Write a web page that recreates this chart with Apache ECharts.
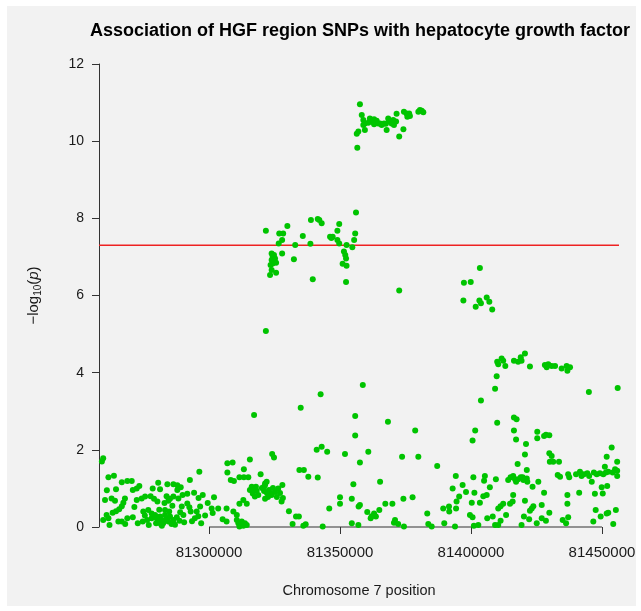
<!DOCTYPE html>
<html>
<head>
<meta charset="utf-8">
<script src="https://cdn.jsdelivr.net/npm/echarts@6/dist/echarts.min.js"></script>
<style>
  html, body { margin: 0; padding: 0; background: #fff; }
  #chart { width: 641px; height: 611px; }
</style>
</head>
<body>
<div id="chart"></div>
<script>
  // SNP positions (bp) and -log10(p), grouped by region
  const lowLeft = [
    [81259600, 1.78], [81259100, 1.7], [81261600, 1.29], [81263700, 1.33], [81266700, 1.16], [81268800, 1.19],
    [81270500, 1.19], [81270900, 0.96], [81272400, 1.0], [81273400, 1.06], [81260300, 0.7], [81262800, 0.74],
    [81264100, 0.68], [81267900, 0.74], [81267300, 0.63], [81266700, 0.54], [81265700, 0.46], [81264500, 0.41],
    [81263200, 0.37], [81260900, 0.31], [81259600, 0.18], [81261600, 0.23], [81265400, 0.14], [81266700, 0.14],
    [81268800, 0.23], [81270900, 0.25], [81272800, 0.1], [81274700, 0.14], [81276400, 0.18], [81278100, 0.23],
    [81272400, 0.7], [81274300, 0.74], [81275600, 0.79], [81277700, 0.8], [81279000, 0.73], [81280300, 0.66],
    [81274900, 0.4], [81276800, 0.44], [81278100, 0.35], [81280600, 1.15], [81281300, 0.98], [81284100, 1.11],
    [81286400, 1.11], [81287900, 1.08], [81289200, 1.03], [81287900, 0.96], [81283800, 0.8], [81285100, 0.73],
    [81284500, 0.68], [81286400, 0.79], [81288300, 0.74], [81289900, 0.83], [81291700, 0.86], [81292700, 1.22],
    [81294300, 0.89], [81296300, 1.43], [81297600, 0.83], [81291700, 0.61], [81292500, 0.51], [81293000, 0.4],
    [81295300, 0.4], [81295900, 0.28], [81294600, 0.23], [81296600, 0.53], [81289600, 0.53], [81290200, 0.31],
    [81279400, 0.31], [81280000, 0.23], [81280600, 0.14], [81281300, 0.27], [81281900, 0.18], [81282500, 0.1],
    [81283200, 0.31], [81283800, 0.2], [81284500, 0.14], [81285100, 0.27], [81285700, 0.08], [81281600, 0.08],
    [81279800, 0.1], [81286400, 0.18], [81287700, 0.25], [81288700, 0.16], [81283200, 0.44], [81284800, 0.4],
    [81277000, 0.05], [81282000, 0.03], [81287000, 0.06], [81290500, 0.12], [81293500, 0.15], [81297000, 0.1],
    [81262000, 0.05], [81268000, 0.08], [81275500, 0.3], [81281000, 0.45], [81286000, 0.55], [81271500, 0.52],
    [81261000, 0.95], [81264500, 0.98], [81278500, 1.0], [81283000, 0.62], [81289000, 0.38], [81296000, 0.75],
    [81298500, 0.3], [81299500, 0.62]
  ];
  const lowMid = [
    [81301900, 0.77], [81301000, 0.48], [81301400, 0.36], [81303500, 0.48], [81306700, 0.48], [81305200, 0.2],
    [81306700, 0.14], [81309300, 0.4], [81310600, 0.31], [81311600, 0.6], [81313100, 0.7], [81314400, 0.6],
    [81307000, 1.65], [81309000, 1.67], [81313300, 1.5], [81315600, 1.75], [81307000, 1.41], [81308300, 1.22],
    [81309500, 1.19], [81311600, 1.29], [81313300, 1.29], [81315000, 1.29], [81317200, 2.9], [81316300, 1.04],
    [81317200, 0.98], [81318200, 0.94], [81316700, 0.87], [81317500, 0.79], [81318800, 0.83], [81315600, 0.96],
    [81317900, 1.04], [81319700, 1.37], [81321400, 1.09], [81322000, 1.17], [81310600, 0.18], [81311200, 0.1],
    [81311800, 0.05], [81312500, 0.14], [81313100, 0.03], [81313700, 0.1], [81314400, 0.05], [81311600, 0.01],
    [81312900, 0.08], [81335000, 3.09], [81342600, 3.44], [81341100, 2.0], [81343000, 2.08], [81345100, 1.95],
    [81324100, 1.89], [81324800, 1.8], [81334500, 1.48], [81336200, 1.48], [81337900, 1.3], [81341500, 1.28],
    [81321400, 1.13], [81321000, 1.04], [81326400, 1.0], [81328000, 1.09], [81323900, 0.83], [81327700, 0.66],
    [81345900, 0.48], [81330500, 0.41], [81333200, 0.27], [81334300, 0.27], [81331900, 0.08], [81336000, 0.03],
    [81336900, 0.07], [81343400, 0.01], [81320200, 1.01], [81321000, 0.93], [81322100, 0.88], [81322900, 0.96],
    [81323700, 0.86], [81324400, 1.01], [81325200, 0.91], [81322500, 0.78], [81321400, 0.73], [81325900, 0.78],
    [81327100, 0.88], [81328200, 0.75]
  ];
  const lowCenter = [
    [81358700, 3.68], [81355800, 2.88], [81368300, 2.73], [81378700, 2.5], [81355800, 2.37], [81351900, 1.89],
    [81360800, 1.95], [81357600, 1.67], [81373700, 1.82], [81379900, 1.82], [81387100, 1.58], [81355100, 1.11],
    [81365300, 1.17], [81350000, 0.77], [81350000, 0.6], [81354500, 0.73], [81374200, 0.73], [81377700, 0.77],
    [81367300, 0.6], [81370000, 0.6], [81357600, 0.57], [81357100, 0.53], [81354500, 0.1], [81357000, 0.05],
    [81360400, 0.39], [81362100, 0.28], [81363000, 0.35], [81363700, 0.27], [81361700, 0.23], [81365000, 0.44],
    [81371000, 0.18], [81370600, 0.11], [81372200, 0.08], [81374400, 0.01], [81383300, 0.35], [81383700, 0.08],
    [81385000, 0.01], [81389400, 0.48], [81391600, 0.53], [81391700, 0.4], [81389800, 0.1], [81394200, 1.32],
    [81393000, 1.0], [81396800, 1.09], [81398100, 0.91], [81395500, 0.79], [81394500, 0.66], [81394300, 0.48],
    [81393900, 0.01]
  ];
  const lowRight = [
    [81400600, 2.24], [81401600, 2.5], [81410000, 2.7], [81416400, 2.84], [81417400, 2.79], [81416400, 2.5],
    [81417200, 2.27], [81425300, 2.47], [81425300, 2.3], [81427900, 2.36], [81428600, 2.39], [81429900, 2.38],
    [81421000, 2.15], [81420600, 1.88], [81417800, 1.63], [81429900, 1.91], [81430800, 1.84], [81430100, 1.69],
    [81431400, 1.69], [81433600, 1.69], [81453700, 2.06], [81451800, 1.82], [81451100, 1.56], [81455800, 1.69],
    [81433100, 1.35], [81434000, 1.3], [81437100, 1.37], [81437500, 1.29], [81440100, 1.37], [81441600, 1.43],
    [81442200, 1.32], [81443100, 1.37], [81444400, 1.39], [81445100, 1.32], [81446900, 1.41], [81448000, 1.37],
    [81449200, 1.39], [81450500, 1.37], [81451500, 1.41], [81452400, 1.43], [81454100, 1.41], [81455000, 1.5],
    [81455800, 1.46], [81455800, 1.32], [81414200, 1.22], [81415100, 1.29], [81416100, 1.32], [81417200, 1.17],
    [81418000, 1.24], [81419000, 1.29], [81420000, 1.22], [81421300, 1.26], [81421500, 1.17], [81419700, 1.29],
    [81416800, 1.24], [81400900, 1.29], [81405300, 1.32], [81405000, 1.2], [81409500, 1.24], [81401300, 0.89],
    [81407200, 1.03], [81406000, 0.83], [81404700, 0.8], [81403400, 0.63], [81400300, 0.63], [81399600, 0.31],
    [81400600, 0.25], [81406200, 0.23], [81408300, 0.27], [81411300, 0.16], [81409200, 0.05], [81410400, 0.05],
    [81402800, 0.05], [81401100, 0.03], [81410400, 0.48], [81411300, 0.54], [81412300, 0.6], [81413400, 0.31],
    [81414900, 0.6], [81415900, 0.66], [81416100, 0.83], [81420600, 0.68], [81421300, 1.48], [81423500, 1.04],
    [81425700, 1.17], [81427900, 0.89], [81427000, 0.57], [81423200, 0.48], [81422500, 0.42], [81423800, 0.54],
    [81420200, 0.27], [81422200, 0.2], [81425100, 0.1], [81427000, 0.23], [81428600, 0.16], [81429900, 0.37],
    [81419300, 0.05], [81435000, 0.18], [81436300, 0.1], [81437100, 0.25], [81436800, 0.6], [81436800, 0.83],
    [81441300, 0.89], [81446100, 1.17], [81447300, 0.86], [81449900, 1.03], [81450300, 0.87], [81452000, 1.06],
    [81447600, 0.44], [81446700, 0.14], [81449500, 0.27], [81451800, 0.35], [81452400, 0.37], [81455300, 0.44],
    [81454300, 0.08]
  ];
  const peak7 = [
    [81356100, 8.15], [81321700, 7.68], [81329900, 7.8], [81338900, 7.96], [81341500, 7.98], [81342100, 7.96],
    [81343000, 7.87], [81349700, 7.85], [81349000, 7.68], [81326800, 7.61], [81328300, 7.61], [81335800, 7.54],
    [81346200, 7.52], [81347200, 7.52], [81346700, 7.49], [81355800, 7.61], [81355400, 7.44], [81327900, 7.44],
    [81326600, 7.35], [81332900, 7.31], [81338700, 7.34], [81349000, 7.44], [81349700, 7.35], [81352500, 7.31],
    [81354700, 7.25], [81351500, 7.14], [81323900, 7.09], [81324800, 7.05], [81324300, 7.01], [81325200, 6.96],
    [81323900, 6.92], [81324800, 6.88], [81325600, 6.85], [81324300, 6.83], [81323500, 6.79], [81327900, 7.09],
    [81332400, 6.94], [81323900, 6.66], [81323300, 6.53], [81325600, 6.59], [81352000, 7.05], [81352300, 6.96],
    [81351000, 6.82], [81352500, 6.77], [81339600, 6.42], [81352300, 6.35], [81372600, 6.13], [81321700, 5.08]
  ];
  const peak10 = [
    [81357600, 10.96], [81358300, 10.68], [81358900, 10.55], [81359500, 10.46], [81358900, 10.42], [81360800, 10.48],
    [81361400, 10.59], [81362100, 10.51], [81363000, 10.57], [81364000, 10.53], [81364600, 10.46], [81363000, 10.44],
    [81365300, 10.46], [81365900, 10.42], [81366800, 10.46], [81367500, 10.45], [81368400, 10.59], [81368800, 10.51],
    [81369700, 10.46], [81370300, 10.55], [81370600, 10.42], [81371400, 10.51], [81371600, 10.71], [81367800, 10.29],
    [81374200, 10.31], [81372600, 10.12], [81359500, 10.29], [81357000, 10.25], [81356400, 10.19], [81356600, 9.83],
    [81374400, 10.76], [81375400, 10.72], [81376100, 10.68], [81376400, 10.72], [81376700, 10.65], [81375700, 10.63],
    [81379900, 10.76], [81380500, 10.81], [81381200, 10.79], [81381800, 10.75]
  ];
  const peak6 = [
    [81403400, 6.71], [81397300, 6.33], [81399900, 6.35], [81397100, 5.87], [81403200, 5.87], [81403800, 5.8],
    [81401800, 5.71], [81406000, 5.95], [81407000, 5.84], [81408100, 5.64]
  ];
  const peak4 = [
    [81410000, 4.28], [81410400, 4.22], [81411700, 4.37], [81412300, 4.31], [81413100, 4.17], [81416400, 4.31],
    [81418000, 4.28], [81419000, 4.4], [81419300, 4.31], [81420600, 4.5], [81422500, 4.16], [81428200, 4.2],
    [81428900, 4.14], [81429500, 4.22], [81430800, 4.17], [81432100, 4.17], [81434600, 4.11], [81436500, 4.17],
    [81436800, 4.05], [81437800, 4.14], [81409800, 3.91], [81409200, 3.58], [81403800, 3.28], [81445000, 3.5],
    [81456000, 3.6]
  ];

  const xRange = [81258000, 81456500];
  const xTicks = [81300000, 81350000, 81400000, 81450000];
  const yTicks = [0, 2, 4, 6, 8, 10, 12];
  const threshold = 7.3; // -log10(5e-8)

  const snps = [].concat(lowLeft, lowMid, lowCenter, lowRight, peak7, peak10, peak6, peak4);

  const font = 'Liberation Sans, Arial, sans-serif';
  const chart = echarts.init(document.getElementById('chart'));
  chart.setOption({
    backgroundColor: '#ffffff',
    animation: false,
    graphic: [
      { type: 'rect', z: -10, silent: true, shape: { x: 7, y: 6, width: 629, height: 600 }, style: { fill: '#f2f2f2' } }
    ],
    title: {
      text: 'Association of HGF region SNPs with hepatocyte growth factor',
      left: 85,
      top: 17,
      textStyle: { fontFamily: font, fontSize: 18, fontWeight: 'bold', color: '#000' }
    },
    grid: { left: 99, right: 22, top: 64, bottom: 84, containLabel: false },
    xAxis: {
      type: 'value',
      min: xRange[0],
      max: xRange[1],
      name: 'Chromosome 7 position',
      nameLocation: 'middle',
      nameGap: 56,
      nameTextStyle: { fontFamily: font, fontSize: 14.5, color: '#1a1a1a' },
      axisLine: { show: false, onZero: false },
      splitLine: { show: false },
      axisTick: { show: true, length: 7, customValues: xTicks, lineStyle: { color: '#333' } },
      axisLabel: {
        customValues: xTicks,
        margin: 18,
        fontFamily: font,
        fontSize: 15,
        color: '#1a1a1a',
        formatter: v => String(v)
      }
    },
    yAxis: {
      type: 'value',
      min: 0,
      max: 12,
      interval: 2,
      name: '{a|−log}{s|10}{a|(}{i|p}{a|)}',
      nameLocation: 'middle',
      nameGap: 56,
      nameTextStyle: {
        fontFamily: font,
        color: '#1a1a1a',
        rich: {
          a: { fontFamily: font, fontSize: 15, color: '#1a1a1a', lineHeight: 18 },
          i: { fontFamily: font, fontSize: 15, fontStyle: 'italic', color: '#1a1a1a', lineHeight: 18 },
          s: { fontFamily: font, fontSize: 10, color: '#1a1a1a', lineHeight: 18, padding: [8, 0, 0, 0] }
        }
      },
      axisLine: { show: true, lineStyle: { color: '#333', width: 1 } },
      axisTick: { show: true, length: 7, customValues: yTicks, lineStyle: { color: '#333' } },
      splitLine: { show: false },
      axisLabel: { customValues: yTicks, margin: 15, fontFamily: font, fontSize: 14, color: '#1a1a1a' }
    },
    series: [
      {
        // genome-wide significance line
        type: 'line',
        data: [[xRange[0], threshold], [xRange[1], threshold]],
        symbol: 'none',
        silent: true,
        z: 1,
        lineStyle: { color: '#ee2222', width: 1.5 }
      },
      {
        type: 'scatter',
        data: snps,
        symbolSize: 6,
        itemStyle: { color: '#00c400', opacity: 1 },
        silent: true,
        z: 2
      },
      {
        // R-style x axis: drawn only between the first and last tick
        type: 'line',
        data: [[xTicks[0], 0], [xTicks[xTicks.length - 1], 0]],
        symbol: 'none',
        silent: true,
        z: 1,
        clip: false,
        lineStyle: { color: '#333', width: 1 }
      }
    ]
  });
</script>
</body>
</html>
